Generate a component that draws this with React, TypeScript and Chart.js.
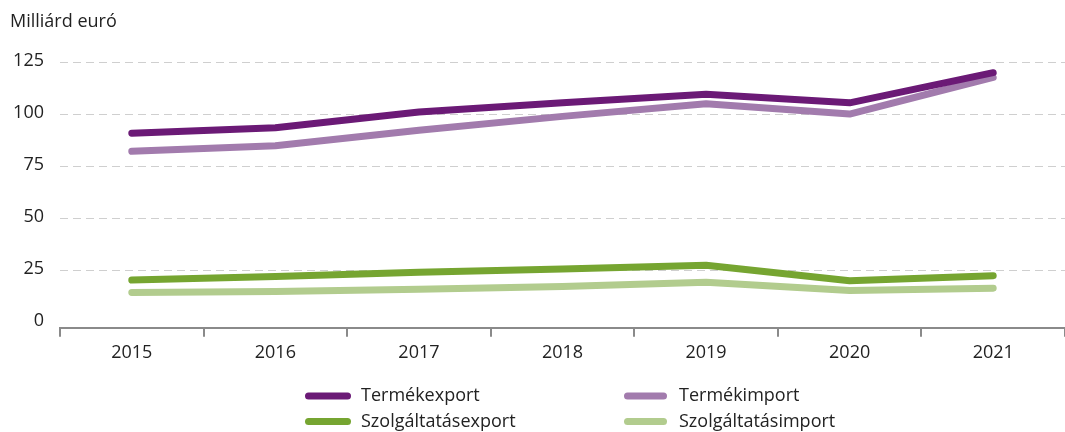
import React, { useEffect, useRef } from "react";
import { Chart, registerables } from "chart.js";

Chart.register(...registerables);

const years = ["2015", "2016", "2017", "2018", "2019", "2020", "2021"];
const termekExport = [91.1, 93.7, 101.3, 105.8, 109.8, 105.7, 120.2];
const termekImport = [82.4, 85.1, 92.5, 99.2, 105.3, 100.3, 118.0];
const szolgExport = [20.5, 22.2, 24.2, 25.8, 27.6, 20.2, 22.6];
const szolgImport = [14.5, 15.0, 16.1, 17.4, 19.5, 15.5, 16.6];
const yTicks = [0, 25, 50, 75, 100, 125];
const seriesNames = ["Termékexport", "Termékimport", "Szolgáltatásexport", "Szolgáltatásimport"];
const seriesColors = ["#6b1a76", "#a27bad", "#76a531", "#b2cc8e"];
const unitLabel = "Milliárd euró";

const FONT = "'Open Sans', 'DejaVu Sans', sans-serif";

const titlePlugin = {
  id: "customTitle",
  afterDraw(chart: any) {
    const ctx = chart.ctx;
    ctx.save();
    ctx.font = `18px ${FONT}`;
    ctx.fillStyle = "#222";
    ctx.textAlign = "left";
    ctx.textBaseline = "middle";
    ctx.fillText(unitLabel, 10, 22);
    ctx.restore();
  },
};

const legendPlugin = {
  id: "customLegend",
  afterDraw(chart: any) {
    const ctx = chart.ctx;
    const cols = [
      { x0: 308.5, x1: 347.5, tx: 361 },
      { x0: 627.5, x1: 663.5, tx: 679 },
    ];
    const rows = [396, 421.5];
    ctx.save();
    chart.data.datasets.forEach((ds: any, i: number) => {
      const c = cols[i % 2];
      const y = rows[Math.floor(i / 2)];
      ctx.beginPath();
      ctx.strokeStyle = ds.borderColor;
      ctx.lineWidth = 7;
      ctx.lineCap = "round";
      ctx.moveTo(c.x0, y);
      ctx.lineTo(c.x1, y);
      ctx.stroke();
      ctx.font = `18px ${FONT}`;
      ctx.fillStyle = "#222";
      ctx.textAlign = "left";
      ctx.textBaseline = "middle";
      ctx.fillText(ds.label, c.tx, y);
    });
    ctx.restore();
  },
};

export default function App() {
  const ref = useRef<HTMLCanvasElement | null>(null);
  useEffect(() => {
    document.body.style.margin = "0";
    if (!ref.current) return;
    const values = [termekExport, termekImport, szolgExport, szolgImport];
    const chart = new Chart(ref.current, {
      type: "line",
      data: {
        labels: years,
        datasets: values.map((v, i) => ({
          label: seriesNames[i],
          data: v,
          borderColor: seriesColors[i],
          backgroundColor: seriesColors[i],
          borderWidth: 7,
          borderCapStyle: "round",
          borderJoinStyle: "round",
          pointRadius: 0,
          pointHoverRadius: 0,
          tension: 0,
          fill: false,
        })),
      },
      options: {
        animation: false,
        responsive: false,
        maintainAspectRatio: false,
        layout: { padding: { top: 62.7, left: 0, right: 0, bottom: 0 } },
        plugins: {
          legend: { display: false },
          title: { display: false },
          tooltip: { enabled: false },
        },
        scales: {
          x: {
            type: "category",
            offset: true,
            grid: {
              offset: true,
              drawOnChartArea: false,
              drawTicks: true,
              tickLength: 9,
              color: "#8a8a8a",
              lineWidth: 2,
            },
            border: { display: true, color: "#8a8a8a", width: 2 },
            ticks: {
              color: "#222",
              font: { family: FONT, size: 18 },
              padding: 5,
              maxRotation: 0,
            },
            afterFit(scale: any) {
              scale.height = 104.3;
            },
          },
          y: {
            min: -2.4,
            max: 125,
            afterBuildTicks(scale: any) {
              scale.ticks = yTicks.map((v) => ({ value: v }));
            },
            grid: {
              drawTicks: false,
              color: (c: any) => (c.tick && c.tick.value === 0 ? "rgba(0,0,0,0)" : "#cfcfcf"),
              lineWidth: 1,
            },
            border: { display: false, dash: [8, 5] },
            ticks: {
              color: "#222",
              font: { family: FONT, size: 18 },
              padding: 16,
              labelOffset: -2,
            },
            afterFit(scale: any) {
              scale.width = 60;
            },
          },
        },
      } as any,
      plugins: [titlePlugin, legendPlugin],
    });
    return () => chart.destroy();
  }, []);
  return (
    <div style={{ width: 1065, height: 432 }}>
      <canvas ref={ref} width={1065} height={432} style={{ display: "block" }} />
    </div>
  );
}
